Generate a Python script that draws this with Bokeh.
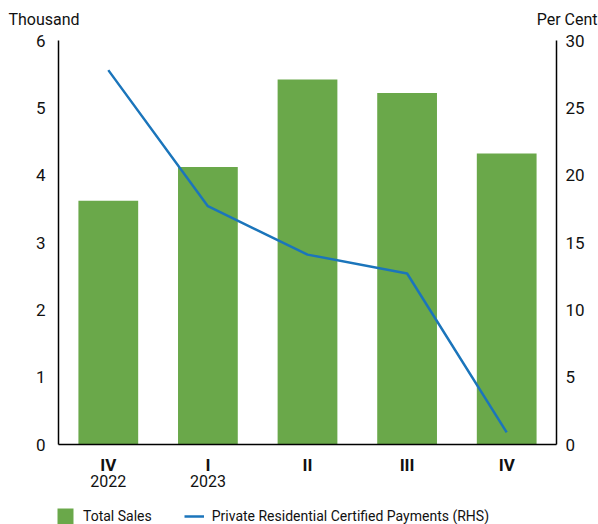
from bokeh.plotting import figure
from bokeh.models import Range1d, LinearAxis, FixedTicker, Legend, LegendItem
from bokeh.layouts import column
from bokeh.core.properties import value
from bokeh.embed import file_html
from bokeh.resources import INLINE

quarters = ["IV", "I", "II", "III", "IV"]
years = ["2022", "2023", "", "", ""]
total_sales = [3.62, 4.12, 5.42, 5.22, 4.32]          # Thousand (LHS)
payments = [27.8, 17.7, 14.1, 12.7, 0.9]              # Per Cent (RHS)
left_ticks = [0, 1, 2, 3, 4, 5, 6]
right_ticks = [0, 5, 10, 15, 20, 25, 30]
left_title = "Thousand"
right_title = "Per Cent"
series_names = ["Total Sales", "Private Residential Certified Payments (RHS)"]

GREEN = "#6AA84A"
BLUE = "#1B75BB"
FONT = "Roboto"
TXT = "#111111"

xs = [i + 0.5 for i in range(len(quarters))]

def bare(fig):
    fig.frame_align = False
    fig.axis.visible = False
    fig.grid.visible = False
    fig.outline_line_color = None

# ---- header strip with the two axis titles ----
top = figure(width=598, height=30, x_range=Range1d(0, 598), y_range=Range1d(0, 30),
             output_backend="svg", toolbar_location=None, min_border=0)
bare(top)
top.text(x=[8], y=[11], text=[left_title], text_font=value(FONT), text_font_size="16px",
         text_color=TXT, text_align="left", text_baseline="middle")
top.text(x=[597], y=[11], text=[right_title], text_font=value(FONT), text_font_size="16px",
         text_color=TXT, text_align="right", text_baseline="middle")

# ---- main chart ----
p = figure(frame_width=498, frame_height=404, x_range=Range1d(0, len(quarters)), y_range=Range1d(0, 6),
           output_backend="svg", toolbar_location=None,
           min_border_left=58, min_border_right=42, min_border_top=10, min_border_bottom=58)
p.frame_align = False
p.extra_y_ranges = {"pct": Range1d(0, 30)}
p.outline_line_color = None
p.xgrid.visible = False
p.ygrid.visible = False

p.vbar(x=xs, top=total_sales, width=0.6, fill_color=GREEN, line_color=None)
p.line(x=xs, y=payments, y_range_name="pct", line_color=BLUE, line_width=2.5)

def style_axis(ax, size="17px", bold=False, standoff=8):
    ax.major_tick_line_color = None
    ax.minor_tick_line_color = None
    ax.axis_line_color = "black"
    ax.axis_line_width = 1.5
    ax.major_label_text_font = FONT
    ax.major_label_text_font_size = size
    ax.major_label_text_color = TXT
    ax.major_label_text_font_style = "bold" if bold else "normal"
    ax.major_label_standoff = standoff

ya = p.yaxis[0]
ya.ticker = FixedTicker(ticks=left_ticks)
style_axis(ya, standoff=7)

ra = LinearAxis(y_range_name="pct", ticker=FixedTicker(ticks=right_ticks))
style_axis(ra, standoff=3)
p.add_layout(ra, "right")

xa = p.xaxis[0]
xa.ticker = FixedTicker(ticks=xs)
xa.major_label_overrides = {x: q for x, q in zip(xs, quarters)}
style_axis(xa, bold=True, standoff=4)

yr = LinearAxis(ticker=FixedTicker(ticks=[x for x, y in zip(xs, years) if y]))
yr.major_label_overrides = {x: y for x, y in zip(xs, years) if y}
style_axis(yr, size="16px", standoff=-9)
yr.axis_line_color = None
p.add_layout(yr, "below")

# ---- legend strip (series renderers kept outside its visible range; only the legend shows) ----
lg = figure(width=598, height=24, x_range=Range1d(-3, -2), y_range=Range1d(-3, -2),
            output_backend="svg", toolbar_location=None, min_border=0)
bare(lg)
r_bar = lg.vbar(x=xs, top=total_sales, width=0.6, fill_color=GREEN, line_color=None)
r_line = lg.line(x=xs, y=payments, line_color=BLUE, line_width=2.5)
legend = Legend(items=[LegendItem(label=series_names[0], renderers=[r_bar]),
                       LegendItem(label=series_names[1], renderers=[r_line])],
                orientation="horizontal", location=(55, 0), border_line_color=None,
                background_fill_alpha=0, padding=0, margin=0, spacing=32,
                glyph_width=20, glyph_height=20, label_height=20, label_text_font=FONT,
                label_text_font_size="14px", label_text_color=TXT, label_standoff=8)
lg.add_layout(legend, "center")

layout = column(top, p, lg, spacing=0)
open("out.html", "w").write(file_html(layout, INLINE))
